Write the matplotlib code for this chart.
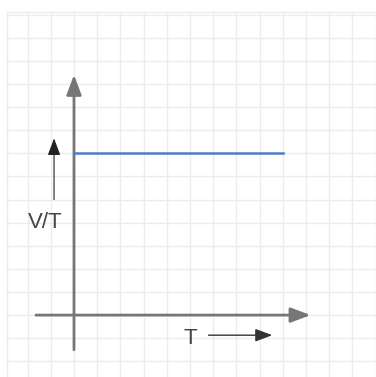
import matplotlib
matplotlib.use("Agg")
import matplotlib.pyplot as plt
import numpy as np

# Data
T_values = [0, 9]
VT_values = [7, 7]
x_label = "T"
y_label = "V/T"

fig = plt.figure(figsize=(3.76, 3.77), dpi=100)
ax = fig.add_axes([0, 0, 1, 1])
ax.set_xlim(-3.19, 13.02)
ax.set_ylim(-2.68, 13.64)
ax.axis("off")

# grid
grid_c = "#ececec"
gx0, gy1 = -2.88, 13.1
for gx in np.arange(-2, 14, 1):
    ax.plot([gx, gx], [-3, gy1], color=grid_c, lw=1.0, zorder=0)
ax.plot([gx0, gx0], [-3, gy1], color=grid_c, lw=1.0, zorder=0)
for gy in np.arange(-2, 14, 1):
    yy = min(gy, gy1)
    ax.plot([gx0, 14], [yy, yy], color=grid_c, lw=1.0, zorder=0)
ax.plot([gx0, 14], [gy1, gy1], color=grid_c, lw=1.0, zorder=0)

axis_c = "#767676"
astyle = "-|>,head_length=0.8,head_width=0.3"
# x axis
ax.annotate("", xy=(10.2, 0), xytext=(-1.64, 0),
            arrowprops=dict(arrowstyle=astyle, color=axis_c, lw=2,
                            mutation_scale=15, shrinkA=0, shrinkB=0))
# y axis
ax.annotate("", xy=(0, 10.4), xytext=(0, -1.5),
            arrowprops=dict(arrowstyle=astyle, color=axis_c, lw=2,
                            mutation_scale=15, shrinkA=0, shrinkB=0))

# data line
ax.plot(T_values, VT_values, color="#4a7fc8", lw=1.8, zorder=3)

# small direction arrows
small = "-|>,head_length=0.8,head_width=0.3"
ax.annotate("", xy=(-0.86, 7.65), xytext=(-0.86, 5.0),
            arrowprops=dict(arrowstyle=small, color="#222222", lw=0.8,
                            mutation_scale=13, shrinkA=0, shrinkB=0))
ax.annotate("", xy=(8.55, -0.87), xytext=(5.8, -0.87),
            arrowprops=dict(arrowstyle=small, color="#333333", lw=1.0,
                            mutation_scale=13, shrinkA=0, shrinkB=0))

ax.text(-1.25, 4.0, y_label, fontsize=16, family="Liberation Sans",
        color="#444444", ha="center", va="center")
ax.text(5.0, -1.0, x_label, fontsize=16, family="Liberation Sans",
        color="#444444", ha="center", va="center")

fig.savefig("out.png", dpi=100)
